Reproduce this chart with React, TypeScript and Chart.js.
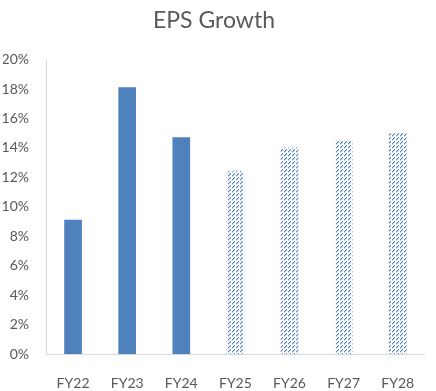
import React, { useEffect, useRef } from "react";
import { Chart, registerables } from "chart.js";

Chart.register(...registerables);

const categories = ["FY22", "FY23", "FY24", "FY25", "FY26", "FY27", "FY28"];
const epsGrowth = [9.1, 18.1, 14.7, 12.4, 14.0, 14.5, 15.0];
const isForecast = [false, false, false, true, true, true, true];
const yTicks = [0, 2, 4, 6, 8, 10, 12, 14, 16, 18, 20];

const BLUE = "#4F81BD";

function makeHatch(): CanvasPattern | string {
  const c = document.createElement("canvas");
  c.width = 8;
  c.height = 8;
  const ctx = c.getContext("2d");
  if (!ctx) return BLUE;
  ctx.fillStyle = "#ffffff";
  ctx.fillRect(0, 0, 8, 8);
  const dark = "rgb(60,105,185)";
  const mid = "rgb(95,140,205)";
  const light = "rgb(180,202,234)";
  const put = (x: number, y: number, col: string) => {
    ctx.fillStyle = col;
    ctx.fillRect(((x % 8) + 8) % 8, ((y % 8) + 8) % 8, 1, 1);
  };
  for (const off of [0, 4]) {
    for (let i = 0; i < 8; i++) {
      const x = i;
      const y = 7 - i + off;
      const phase = i % 4;
      if (phase === 3) continue;
      put(x, y, phase === 1 ? dark : mid);
      put(x, y + 1, light);
    }
  }
  const p = ctx.createPattern(c, "repeat");
  return p || BLUE;
}

export default function App() {
  const ref = useRef<HTMLCanvasElement>(null);
  useEffect(() => {
    document.body.style.margin = "0";
    if (!ref.current) return;
    const hatch = makeHatch();
    const colors = isForecast.map((f) => (f ? hatch : BLUE));
    const chart = new Chart(ref.current, {
      type: "bar",
      data: {
        labels: categories,
        datasets: [
          {
            label: "EPS Growth",
            data: epsGrowth,
            backgroundColor: colors as any,
            borderWidth: 0,
            barThickness: 17,
          },
        ],
      },
      options: {
        animation: false,
        responsive: false,
        layout: { padding: { left: 3, right: 11, top: 0, bottom: 0 } },
        plugins: {
          legend: { display: false },
          tooltip: { enabled: false },
          title: {
            display: true,
            text: "EPS Growth",
            color: "#595959",
            font: { family: "Lato", size: 23, weight: "normal" },
            padding: { top: 7, bottom: 25 },
          },
        },
        scales: {
          x: {
            grid: { display: false, drawTicks: false },
            border: { display: true, color: "#d9d9d9", width: 1 },
            ticks: {
              color: "#595959",
              font: { family: "Lato", size: 14 },
              padding: 21,
            },
            afterFit: (scale: any) => {
              scale.height = 37;
            },
          },
          y: {
            min: 0,
            max: 20,
            afterBuildTicks: (scale: any) => {
              scale.ticks = yTicks.map((v) => ({ value: v }));
            },
            grid: { display: false, drawTicks: false },
            border: { display: true, color: "#d9d9d9", width: 1 },
            ticks: {
              color: "#595959",
              font: { family: "Lato", size: 14 },
              padding: 17,
              callback: (v: any) => v + "%",
            },
            afterFit: (scale: any) => {
              scale.width = 43;
            },
          },
        },
      },
    });
    return () => chart.destroy();
  }, []);
  return <canvas ref={ref} width={436} height={391} style={{ display: "block" }} />;
}
